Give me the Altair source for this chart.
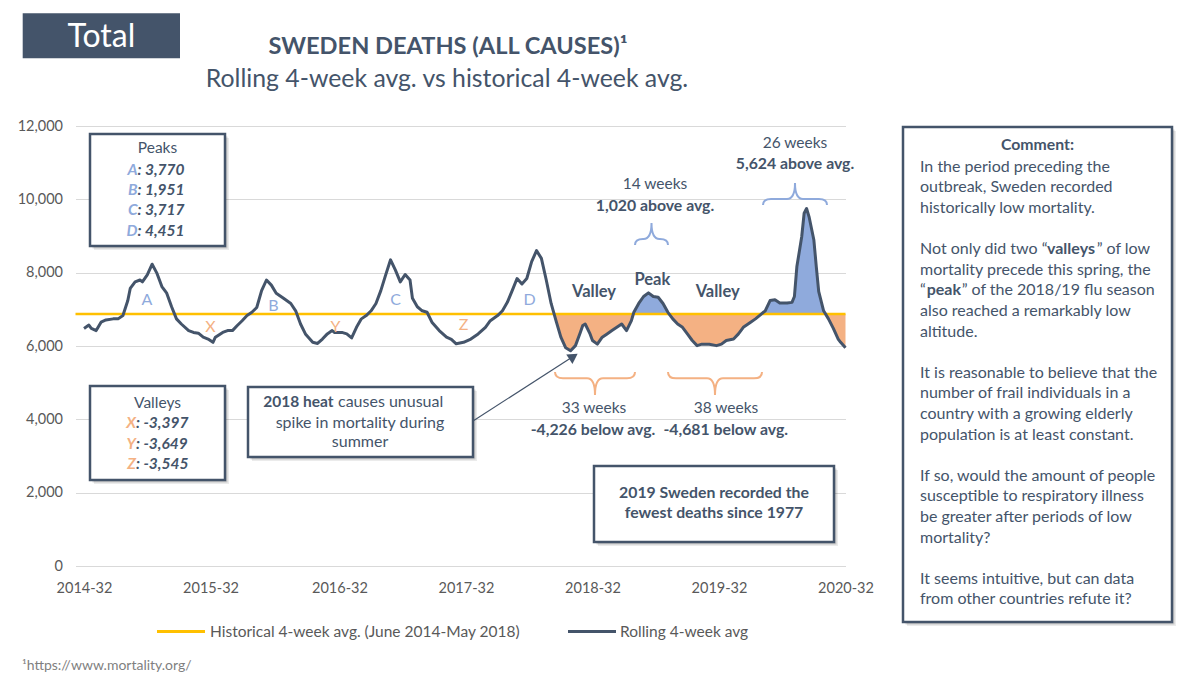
import altair as alt
import pandas as pd

# ---------------- data ----------------
WEEKS = [
    0, 2, 3, 5, 7, 9, 12, 14, 16, 18, 19, 21, 23, 24, 26, 28, 30, 32, 34, 36, 38, 40, 43, 45, 47, 49, 51,
    53, 54, 57, 59, 61, 63, 65, 67, 69, 71, 73, 75, 77, 79, 82, 85, 87, 89, 91, 94, 96, 98, 100, 102, 103,
    106, 108, 110, 112, 114, 116, 118, 120, 122, 124, 126, 128, 130, 132, 134, 135, 137, 139, 141, 143, 146, 149, 151, 153,
    156, 159, 162, 165, 167, 170, 172, 174, 176, 178, 180, 182, 184, 186, 188, 190, 192, 194, 196, 198, 200, 202, 204, 205, 206, 208, 209,
    211, 213, 215, 217, 219, 221, 223, 225, 226, 228, 230, 232, 234, 236, 238, 240, 242, 244, 246, 248, 250, 252, 254, 257, 260,
    262, 264, 267, 269, 271, 274, 276, 278, 280, 282, 284, 286, 289, 291, 292, 293, 295, 296, 297, 298, 300, 301, 302, 304, 306, 308, 310, 311, 313,
]
DEATHS = [
    6480, 6570, 6480, 6420, 6650, 6710, 6740, 6740, 6830, 7240, 7570, 7750, 7800, 7750, 7940, 8230, 7980, 7620, 7440, 7070, 6740, 6600, 6420, 6370, 6350, 6240, 6190,
    6100, 6240, 6370, 6420, 6420, 6560, 6690, 6830, 6920, 7050, 7510, 7800, 7660, 7440, 7300, 7160, 6960, 6600, 6330, 6100, 6070, 6190, 6330, 6420, 6370,
    6370, 6330, 6220, 6510, 6740, 6830, 6960, 7160, 7510, 7940, 8350, 8070, 7750, 7950, 7800, 7300, 7070, 6960, 6920, 6650, 6420, 6240, 6180, 6060,
    6100, 6190, 6330, 6510, 6690, 6830, 6960, 7190, 7510, 7840, 7690, 7840, 8300, 8600, 8390, 7800, 7160, 6690, 6240, 5950, 5870, 6010, 6370, 6560, 6600, 6330, 6150,
    6050, 6240, 6330, 6420, 6510, 6600, 6420, 6690, 6920, 7160, 7350, 7450, 7350, 7330, 7160, 6920, 6740, 6600, 6510, 6330, 6150, 6010, 6050, 6050, 6010,
    6050, 6150, 6190, 6330, 6510, 6650, 6740, 6850, 6960, 7240, 7260, 7170, 7170, 7190, 7350, 8160, 8980, 9620, 9750, 9530, 8890, 8160, 7480, 6960, 6740, 6480, 6190, 6100, 5950,
]
HIST_AVG = 6870
TICK_WEEKS = [0, 52, 105, 157, 209, 261, 313]
TICK_LABELS = ["2014-32", "2015-32", "2016-32", "2017-32", "2018-32", "2019-32", "2020-32"]
Y_TICKS = [0, 2000, 4000, 6000, 8000, 10000, 12000]
SHADE_AFTER_WEEK = 190
PEAK_LETTERS = ["A", "B", "C", "D"]
PEAK_VALUES = ["3,770", "1,951", "3,717", "4,451"]
VALLEY_LETTERS = ["X", "Y", "Z"]
VALLEY_VALUES = ["-3,397", "-3,649", "-3,545"]

# ---------------- layout ----------------
FONT = "Lato"
NAVY = "#44546A"
GOLD = "#FFC000"
ORANGE = "#F4B183"
BLUE = "#8FAADC"
GREY = "#595959"
W, H = 770, 440
OX, OY = 75.5, 126.0          # page position of the plot's top-left corner
PAD_L, PAD_T = OX - 8, OY - 8
TOTAL_W, TOTAL_H = 1184, 676
ONE = pd.DataFrame({"a": [0]})

label_expr = " : ".join(f"datum.value == {w} ? '{l}'" for w, l in zip(TICK_WEEKS, TICK_LABELS)) + " : ''"
X_SCALE = alt.Scale(domain=[-3.5, 313], nice=False, zero=False)
Y_SCALE = alt.Scale(domain=[0, 12000], nice=False)
X_AXIS = alt.Axis(values=TICK_WEEKS, labelExpr=label_expr, grid=False, ticks=False, domain=False,
                  labelPadding=15, labelFontSize=14.5, labelColor=GREY, labelFont=FONT, title=None,
                  labelFlush=False, labelOverlap=False)
Y_AXIS = alt.Axis(values=Y_TICKS, labelExpr="format(datum.value, ',')", grid=True, gridColor="#D9D9D9",
                  gridWidth=1, ticks=False, domain=False, labelPadding=13, labelFontSize=14.5,
                  labelColor=GREY, labelFont=FONT, title=None)

# ---------------- series ----------------
line_df = pd.DataFrame({"week": WEEKS, "deaths": DEATHS})

pts = list(zip(WEEKS, DEATHS))
dense = [pts[0]]
for (w0, v0), (w1, v1) in zip(pts[:-1], pts[1:]):
    if (v0 - HIST_AVG) * (v1 - HIST_AVG) < 0:
        wc = w0 + (HIST_AVG - v0) / (v1 - v0) * (w1 - w0)
        dense.append((wc, HIST_AVG))
    dense.append((w1, v1))
start = min(w for w, v in dense if w > SHADE_AFTER_WEEK and v == HIST_AVG)
shade = pd.DataFrame([(w, v) for w, v in dense if w >= start], columns=["week", "deaths"])
shade["lo"] = shade["deaths"].clip(upper=HIST_AVG)
shade["hi"] = shade["deaths"].clip(lower=HIST_AVG)
shade["avg"] = HIST_AVG

xq = alt.X("week:Q", scale=X_SCALE, axis=X_AXIS)
below = alt.Chart(shade).mark_area(color=ORANGE, opacity=1).encode(
    x=xq, y=alt.Y("lo:Q", scale=Y_SCALE, axis=Y_AXIS), y2=alt.Y2("avg:Q"))
above = alt.Chart(shade).mark_area(color=BLUE, opacity=1).encode(
    x=xq, y=alt.Y("hi:Q", scale=Y_SCALE, axis=Y_AXIS), y2=alt.Y2("avg:Q"))
avg_rule = alt.Chart(pd.DataFrame({"avg": [HIST_AVG]})).mark_rule(color=GOLD, strokeWidth=2.5).encode(
    y=alt.Y("avg:Q", scale=Y_SCALE, axis=Y_AXIS))
rolling = alt.Chart(line_df).mark_line(color=NAVY, strokeWidth=3, strokeJoin="round").encode(
    x=xq, y=alt.Y("deaths:Q", scale=Y_SCALE, axis=Y_AXIS))


# ---------------- annotation helpers ----------------
def texts(rows, **kw):
    df = pd.DataFrame(rows, columns=["x", "y", "t"])
    df["x"] = df["x"] - OX
    df["y"] = df["y"] - OY
    props = dict(font=FONT, fontSize=16, color=NAVY, baseline="middle", align="center")
    props.update(kw)
    return alt.Chart(df).mark_text(**props).encode(
        x=alt.X("x:Q", scale=None, axis=None),
        y=alt.Y("y:Q", scale=None, axis=None),
        text=alt.Text("t:N"))


def boxes(rows, dx=0, dy=0, **kw):
    df = pd.DataFrame(rows, columns=["x", "x2", "y", "y2"])
    df["x"] = df["x"] - OX + dx
    df["x2"] = df["x2"] - OX + dx
    df["y"] = df["y"] - OY + dy
    df["y2"] = df["y2"] - OY + dy
    return alt.Chart(df).mark_rect(**kw).encode(
        x=alt.X("x:Q", scale=None, axis=None), x2=alt.X2("x2:Q"),
        y=alt.Y("y:Q", scale=None, axis=None), y2=alt.Y2("y2:Q"))


def brace(cx, cy, w, h, color, down=True):
    hh = h / w
    r = 16.0 / w
    s = 1 if down else -1
    ya, yb, yt = -hh * s, -0.45 * hh * s, hh * s
    path = (f"M -1 {ya:.3f} Q -1 {yb:.3f} {-1 + r:.3f} {yb:.3f} L {-r:.3f} {yb:.3f} "
            f"Q 0 {yb:.3f} 0 {yt:.3f} Q 0 {yb:.3f} {r:.3f} {yb:.3f} "
            f"L {1 - r:.3f} {yb:.3f} Q 1 {yb:.3f} 1 {ya:.3f}")
    return alt.Chart(ONE).mark_point(shape=path, size=w * w, filled=False, color=color, stroke=color,
                                     strokeWidth=2, opacity=1).encode(
        x=alt.value(cx - OX), y=alt.value(cy - OY))


layers = [below, above, avg_rule, rolling]

# peak / valley letters on the curve
layers.append(texts([(147, 300, "A"), (273.5, 306, "B"), (395.5, 299.5, "C"), (529.5, 300, "D")],
                    fontSize=16, color=BLUE))
layers.append(texts([(210.5, 327, "X"), (335.5, 326.5, "Y"), (463.5, 325, "Z")], fontSize=16, color=ORANGE))
layers.append(texts([(594, 291.7, "Valley"), (652.3, 280, "Peak"), (717.7, 291.7, "Valley")],
                    fontWeight="bold", fontSize=16.5))

# boxes with shadows
BOX_ROWS = [(90, 225, 134, 246), (90, 225, 386, 480), (248, 473, 387, 457),
            (594, 834, 466, 542), (903, 1172, 127, 622)]
layers.append(boxes(BOX_ROWS, dx=4, dy=4, color="#000000", opacity=0.08))
layers.append(boxes(BOX_ROWS, dx=2.5, dy=2.5, color="#000000", opacity=0.14))
layers.append(boxes(BOX_ROWS, fill="white", stroke=NAVY, strokeWidth=2.5))

# peaks box
layers.append(texts([(157.5, 148, "Peaks")], fontSize=15.5))
PEAK_Y = [170, 190, 210, 230.5]
layers.append(texts([(137.5, y, l) for y, l in zip(PEAK_Y, PEAK_LETTERS)], align="right",
                    fontWeight="bold", fontStyle="italic", color=BLUE, fontSize=15.5))
layers.append(texts([(137.5, y, ": " + v) for y, v in zip(PEAK_Y, PEAK_VALUES)], align="left",
                    fontWeight="bold", fontStyle="italic", fontSize=15.5))
# valleys box
layers.append(texts([(157.5, 402.7, "Valleys")], fontSize=15.5))
VALLEY_Y = [423, 443.5, 464]
layers.append(texts([(136, y, l) for y, l in zip(VALLEY_Y, VALLEY_LETTERS)], align="right",
                    fontWeight="bold", fontStyle="italic", color=ORANGE, fontSize=15.5))
layers.append(texts([(136, y, ": " + v) for y, v in zip(VALLEY_Y, VALLEY_VALUES)], align="left",
                    fontWeight="bold", fontStyle="italic", fontSize=15.5))
# heat box
layers.append(texts([(333.5, 401.7, "2018 heat")], align="right", fontWeight="bold", fontSize=15.5))
layers.append(texts([(338, 401.7, "causes unusual")], align="left"))
layers.append(texts([(360, 422.7, "spike in mortality during"), (360, 441.7, "summer")]))
# 2019 box
layers.append(texts([(714, 492.7, "2019 Sweden recorded the"), (714, 513.3, "fewest deaths since 1977")],
                    fontWeight="bold", fontSize=15.8))

# arrow
layers.append(alt.Chart(ONE).mark_rule(color=NAVY, strokeWidth=1.2).encode(
    x=alt.value(473 - OX), y=alt.value(421 - OY), x2=alt.value(570 - OX), y2=alt.value(358.5 - OY)))
layers.append(alt.Chart(ONE).mark_point(shape="triangle-up", angle=57, size=130, filled=True,
                                        color=NAVY, opacity=1).encode(
    x=alt.value(573.5 - OX), y=alt.value(356.5 - OY)))

# braces and their texts
layers.append(brace(595, 383.5, 80, 23, ORANGE, down=True))
layers.append(brace(715, 383.5, 94, 23, ORANGE, down=True))
layers.append(brace(651.5, 234, 33, 22, BLUE, down=False))
layers.append(brace(795, 194, 64, 22, BLUE, down=False))
layers.append(texts([(655, 184, "14 weeks"), (795, 143.3, "26 weeks"), (594, 408, "33 weeks"),
                     (726, 408, "38 weeks")], fontSize=15.5))
layers.append(texts([(655, 206, "1,020 above avg."), (795, 164, "5,624 above avg."),
                     (593, 430, "-4,226 below avg."), (725.7, 430, "-4,681 below avg.")],
                    fontWeight="bold", fontSize=15.8))

# comment panel
layers.append(texts([(1037.5, 145, "Comment:")], fontWeight="bold", fontSize=15.8))
COMMENT = {
    0: "In the period preceding the", 1: "outbreak, Sweden recorded", 2: "historically low mortality.",
    5: "mortality precede this spring, the", 7: "also reached a remarkably low", 8: "altitude.",
    10: "It is reasonable to believe that the", 11: "number of frail individuals in a",
    12: "country with a growing elderly", 13: "population is at least constant.",
    15: "If so, would the amount of people", 16: "susceptible to respiratory illness",
    17: "be greater after periods of low", 18: "mortality?",
    20: "It seems intuitive, but can data", 21: "from other countries refute it?",
}
LINE0, STEP = 166.7, 20.6
layers.append(texts([(920, LINE0 + STEP * i, t) for i, t in COMMENT.items()], align="left"))
layers.append(texts([(920, LINE0 + STEP * 4, "Not only did two \u201c"), (1096.7, LINE0 + STEP * 4, "\u201d of low"),
                     (920, LINE0 + STEP * 6, "\u201c"), (961.7, LINE0 + STEP * 6, "\u201d of the 2018/19 flu season")],
                    align="left"))
layers.append(texts([(1047, LINE0 + STEP * 4, "valleys"), (926.7, LINE0 + STEP * 6, "peak")],
                    align="left", fontWeight="bold"))

# header
layers.append(boxes([(22.7, 180, 13.3, 58.3)], color=NAVY))
layers.append(texts([(101.4, 36.5, "Total")], fontSize=32, color="white"))
layers.append(texts([(448, 47, "SWEDEN DEATHS (ALL CAUSES)\u00b9")], fontSize=23.6, fontWeight="bold"))
layers.append(texts([(447, 80, "Rolling 4-week avg. vs historical 4-week avg.")], fontSize=24.8))

# legend
layers.append(alt.Chart(ONE).mark_rule(color=GOLD, strokeWidth=3).encode(
    x=alt.value(157 - OX), x2=alt.value(205 - OX), y=alt.value(631.5 - OY)))
layers.append(alt.Chart(ONE).mark_rule(color=NAVY, strokeWidth=3).encode(
    x=alt.value(568 - OX), x2=alt.value(616 - OX), y=alt.value(631.5 - OY)))
layers.append(texts([(210, 631.5, "Historical 4-week avg. (June 2014-May 2018)"), (620, 631.5, "Rolling 4-week avg")],
                    align="left", fontSize=15.5, color=GREY))

# footnote
layers.append(texts([(22, 666, "\u00b9https://www.mortality.org/")], align="left", fontSize=14, color="#7F7F7F"))

chart = alt.layer(*layers).properties(
    width=W, height=H,
    padding={"left": PAD_L, "top": PAD_T, "right": TOTAL_W - PAD_L - W, "bottom": TOTAL_H - PAD_T - H},
    autosize=alt.AutoSizeParams(type="none"),
    background="white",
).configure_view(stroke=None)

chart.save("out.html", embed_options={"renderer": "svg", "actions": False})
